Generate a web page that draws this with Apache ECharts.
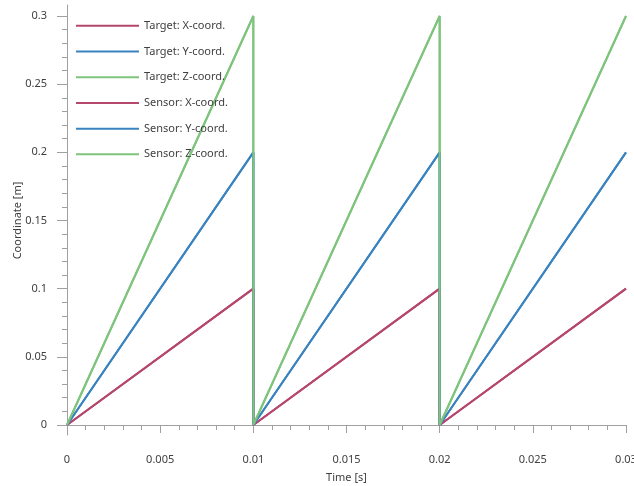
<!DOCTYPE html>
<html>
<head>
<meta charset="utf-8">
<script src="https://cdn.jsdelivr.net/npm/echarts@6/dist/echarts.min.js"></script>
<style>
    html, body { margin: 0; padding: 0; background: #fff; }
    #chartContainer { width: 634px; height: 486px; }
</style>
</head>
<body>
<div id="chartContainer"></div>
<script>
var seriesName = ['Target: X-coord.', 'Target: Y-coord.', 'Target: Z-coord.',
    'Sensor: X-coord.', 'Sensor: Y-coord.', 'Sensor: Z-coord.'];
var seriesColor = ['#b5466e', '#3a83bf', '#7ec47c', '#b5466e', '#3a83bf', '#7ec47c'];

var timeData = [0, 0.01, 0.01, 0.02, 0.02, 0.03];
var targetX = [0, 0.1, 0, 0.1, 0, 0.1];
var targetY = [0, 0.2, 0, 0.2, 0, 0.2];
var targetZ = [0, 0.3, 0, 0.3, 0, 0.3];
var sensorX = [0, 0.1, 0, 0.1, 0, 0.1];
var sensorY = [0, 0.2, 0, 0.2, 0, 0.2];
var sensorZ = [0, 0.3, 0, 0.3, 0, 0.3];

var seriesValues = [targetX, targetY, targetZ, sensorX, sensorY, sensorZ];

var fontName = 'Noto Sans';
var textColor = '#404040';
var axisColor = '#a0a0a0';

var chart = echarts.init(document.getElementById('chartContainer'));

function pairs(values) {
    return values.map(function (v, i) { return [timeData[i], v]; });
}

var series = seriesName.map(function (name, i) {
    return {
        name: name,
        type: 'line',
        xAxisIndex: 0,
        yAxisIndex: 0,
        data: pairs(seriesValues[i]),
        symbol: 'none',
        animation: false,
        lineStyle: { width: 2, color: seriesColor[i] },
        itemStyle: { color: seriesColor[i] }
    };
});

chart.setOption({
    animation: false,
    textStyle: { fontFamily: fontName },
    legend: {
        orient: 'vertical',
        left: 71,
        top: 13,
        icon: 'rect',
        itemWidth: 63,
        itemHeight: 2,
        itemGap: 10,
        data: seriesName,
        textStyle: { fontFamily: fontName, fontSize: 11, color: textColor, lineHeight: 15.7 }
    },
    grid: [
        { left: 67, right: 8, top: 16, bottom: 61, outerBoundsMode: 'none' },
        // only used to draw the longer y axis line
        { left: 67, right: 8, top: 5, bottom: 51, outerBoundsMode: 'none' }
    ],
    xAxis: [{
        type: 'value',
        gridIndex: 0,
        min: 0,
        max: 0.03,
        interval: 0.005,
        offset: 16,
        name: 'Time [s]',
        nameLocation: 'middle',
        nameGap: 31,
        nameMoveOverlap: false,
        nameTextStyle: { fontFamily: fontName, fontSize: 11, color: textColor },
        axisLine: { show: true, lineStyle: { color: axisColor, width: 1 } },
        axisTick: { show: true, length: 8, lineStyle: { color: axisColor } },
        minorTick: { show: true, splitNumber: 5, length: 5, lineStyle: { color: axisColor } },
        axisLabel: { fontFamily: fontName, fontSize: 11, color: textColor, margin: 13, showMaxLabel: true },
        splitLine: { show: false }
    }, {
        type: 'value',
        gridIndex: 1,
        show: false,
        min: 0,
        max: 1
    }],
    yAxis: [{
        type: 'value',
        gridIndex: 0,
        min: 0,
        max: 0.3,
        interval: 0.05,
        offset: 7,
        name: 'Coordinate [m]',
        nameLocation: 'middle',
        nameGap: 37,
        nameMoveOverlap: false,
        nameTextStyle: { fontFamily: fontName, fontSize: 11, color: textColor },
        axisLine: { show: false },
        axisTick: { show: true, length: 10, lineStyle: { color: axisColor } },
        minorTick: { show: true, splitNumber: 5, length: 5, lineStyle: { color: axisColor } },
        axisLabel: { fontFamily: fontName, fontSize: 11, color: textColor, margin: 13 },
        splitLine: { show: false }
    }, {
        type: 'value',
        gridIndex: 1,
        min: 0,
        max: 1,
        offset: 7,
        axisLine: { show: true, lineStyle: { color: axisColor, width: 1 } },
        axisTick: { show: false },
        axisLabel: { show: false },
        splitLine: { show: false }
    }],
    series: series
});
</script>
</body>
</html>
